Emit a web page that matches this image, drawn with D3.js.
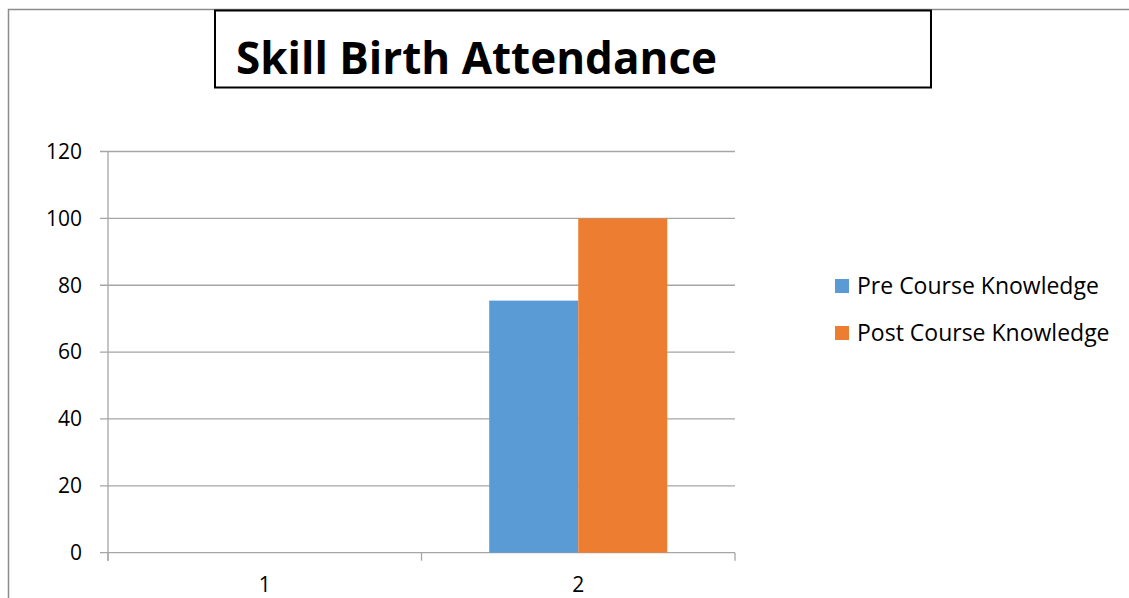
<!DOCTYPE html>
<html><head><meta charset="utf-8">
<script src="https://cdn.jsdelivr.net/npm/d3@7"></script>
<style>html,body{margin:0;padding:0;background:#fff;overflow:hidden}</style>
</head><body>
<svg id="c" width="1129" height="598"></svg>
<script>
const categories = ["1", "2"];
const seriesNames = ["Pre Course Knowledge", "Post Course Knowledge"];
const preValues = [0, 75.4];
const postValues = [0, 100];
const yTicks = [0, 20, 40, 60, 80, 100, 120];
const titleText = "Skill Birth Attendance";

const colors = ["#5B9BD5", "#ED7D31"];
const font = "'Open Sans', Lato, sans-serif";
const svg = d3.select("#c");

// outer chart border (top & left visible)
svg.append("path").attr("d", "M8.5,598 V9.5 H1129").attr("fill", "none")
  .attr("stroke", "#8c8c8c").attr("stroke-width", 1.5);

const L = 108, R = 735, T = 151.5, B = 552.7;
const x = d3.scaleBand().domain(categories).range([L, R]).padding(0);
const gap = 0.432;
const x1 = d3.scaleBand().domain(seriesNames)
  .range([x.bandwidth() * gap / 2, x.bandwidth() * (1 - gap / 2)]).padding(0);
const y = d3.scaleLinear().domain([0, 120]).range([B, T]);

// gridlines
svg.append("g").selectAll("line").data(yTicks).join("line")
  .attr("x1", L - 8).attr("x2", R)
  .attr("y1", d => y(d)).attr("y2", d => y(d))
  .attr("stroke", "#a6a6a6").attr("stroke-width", 1.3);

// y axis line
svg.append("line").attr("x1", L).attr("x2", L).attr("y1", T).attr("y2", B + 8)
  .attr("stroke", "#a6a6a6").attr("stroke-width", 1.3);

// y tick labels
svg.append("g").selectAll("text").data(yTicks).join("text")
  .attr("x", 82).attr("y", d => y(d)).attr("dy", "0.35em")
  .attr("text-anchor", "end").attr("font-family", font).attr("font-size", 21)
  .attr("fill", "#000").text(d => d);

// x category ticks
const bounds = [L].concat(categories.map(c => x(c) + x.bandwidth()));
svg.append("g").selectAll("line").data(bounds).join("line")
  .attr("x1", d => d).attr("x2", d => d).attr("y1", B).attr("y2", B + 8)
  .attr("stroke", "#a6a6a6").attr("stroke-width", 1.3);

svg.append("g").selectAll("text").data(categories).join("text")
  .attr("x", d => x(d) + x.bandwidth() / 2).attr("y", 592)
  .attr("text-anchor", "middle").attr("font-family", font).attr("font-size", 21)
  .attr("fill", "#000").text(d => d);

// bars
const data = categories.map((c, i) => ({ c, vals: [preValues[i], postValues[i]] }));
svg.append("g").selectAll("g").data(data).join("g")
  .attr("transform", d => `translate(${x(d.c)},0)`)
  .selectAll("rect").data(d => d.vals.map((v, j) => ({ v, s: seriesNames[j], j })))
  .join("rect")
  .attr("x", d => x1(d.s)).attr("width", x1.bandwidth())
  .attr("y", d => y(d.v)).attr("height", d => B - y(d.v))
  .attr("fill", d => colors[d.j]);

// title box
svg.append("rect").attr("x", 215).attr("y", 10.5).attr("width", 716).attr("height", 77)
  .attr("fill", "#fff").attr("stroke", "#000").attr("stroke-width", 2);
svg.append("text").attr("x", 236).attr("y", 74).attr("font-family", font)
  .attr("font-weight", "bold").attr("font-size", 44).attr("fill", "#000").text(titleText);

// legend
const lg = svg.append("g").selectAll("g").data(seriesNames).join("g")
  .attr("transform", (d, i) => `translate(835,${279 + i * 47})`);
lg.append("rect").attr("width", 14).attr("height", 14).attr("fill", (d, i) => colors[i]);
lg.append("text").attr("x", 22).attr("y", 7).attr("dy", "0.35em")
  .attr("font-family", font).attr("font-size", 23).attr("fill", "#000").text(d => d);
</script>
</body></html>
